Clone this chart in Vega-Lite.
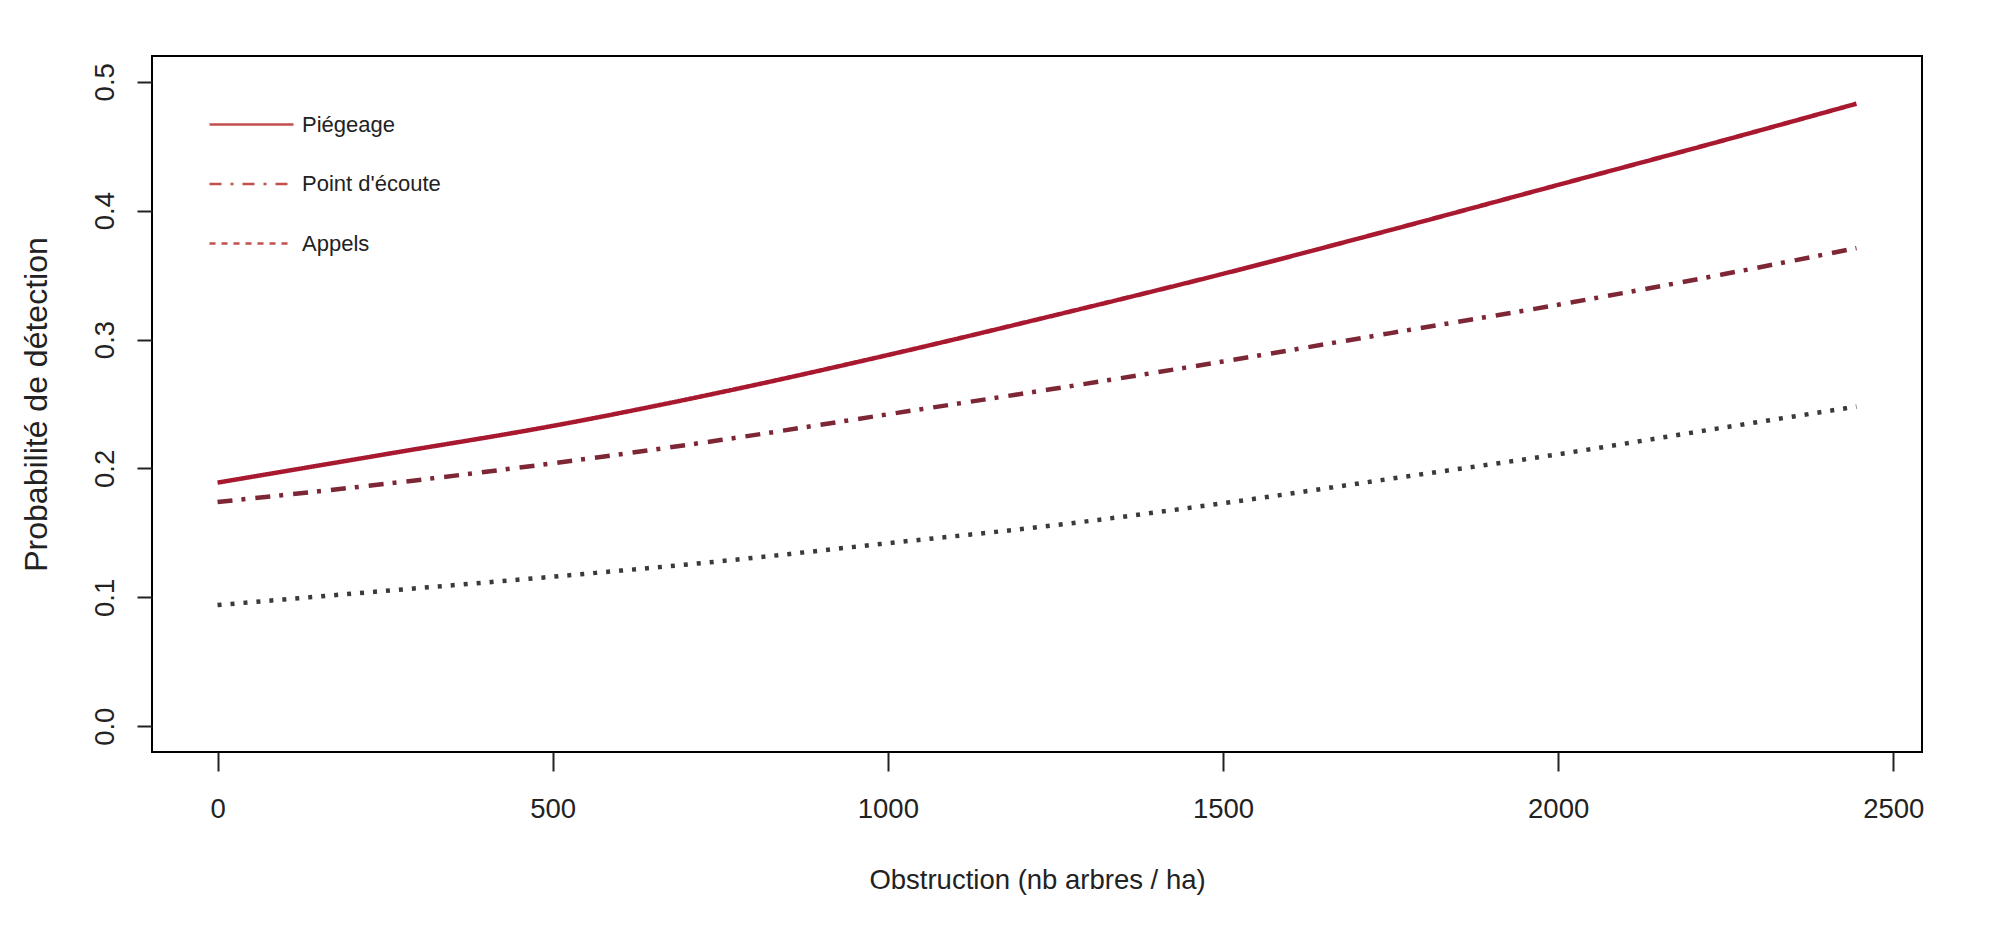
{
  "$schema": "https://vega.github.io/schema/vega-lite/v6.json",
  "width": 1770,
  "height": 696,
  "autosize": {"type": "none"},
  "padding": {"left": 152, "top": 56, "right": 79, "bottom": 191},
  "background": "white",
  "config": {
    "view": {"stroke": "black", "strokeWidth": 2},
    "font": "Liberation Sans, Arial",
    "axis": {"labelFont": "Liberation Sans, Arial", "titleFont": "Liberation Sans, Arial", "labelColor": "#222", "titleColor": "#222", "titleFontWeight": "normal", "tickColor": "#222", "tickWidth": 2, "grid": false, "domain": false},
    "legend": {"labelFont": "Liberation Sans, Arial"}
  },
  "data": {
    "values": [
      {"x": 0, "p": 0.189, "m": "Piégeage"},
      {"x": 250, "p": 0.211, "m": "Piégeage"},
      {"x": 500, "p": 0.233, "m": "Piégeage"},
      {"x": 750, "p": 0.259, "m": "Piégeage"},
      {"x": 1000, "p": 0.288, "m": "Piégeage"},
      {"x": 1250, "p": 0.319, "m": "Piégeage"},
      {"x": 1500, "p": 0.351, "m": "Piégeage"},
      {"x": 1750, "p": 0.385, "m": "Piégeage"},
      {"x": 2000, "p": 0.420, "m": "Piégeage"},
      {"x": 2250, "p": 0.455, "m": "Piégeage"},
      {"x": 2445, "p": 0.483, "m": "Piégeage"},
      {"x": 0, "p": 0.174, "m": "Point d'écoute"},
      {"x": 250, "p": 0.188, "m": "Point d'écoute"},
      {"x": 500, "p": 0.204, "m": "Point d'écoute"},
      {"x": 750, "p": 0.222, "m": "Point d'écoute"},
      {"x": 1000, "p": 0.242, "m": "Point d'écoute"},
      {"x": 1250, "p": 0.262, "m": "Point d'écoute"},
      {"x": 1500, "p": 0.283, "m": "Point d'écoute"},
      {"x": 1750, "p": 0.305, "m": "Point d'écoute"},
      {"x": 2000, "p": 0.327, "m": "Point d'écoute"},
      {"x": 2250, "p": 0.351, "m": "Point d'écoute"},
      {"x": 2445, "p": 0.371, "m": "Point d'écoute"},
      {"x": 0, "p": 0.094, "m": "Appels"},
      {"x": 250, "p": 0.105, "m": "Appels"},
      {"x": 500, "p": 0.116, "m": "Appels"},
      {"x": 750, "p": 0.128, "m": "Appels"},
      {"x": 1000, "p": 0.142, "m": "Appels"},
      {"x": 1250, "p": 0.156, "m": "Appels"},
      {"x": 1500, "p": 0.173, "m": "Appels"},
      {"x": 1750, "p": 0.192, "m": "Appels"},
      {"x": 2000, "p": 0.211, "m": "Appels"},
      {"x": 2250, "p": 0.232, "m": "Appels"},
      {"x": 2445, "p": 0.248, "m": "Appels"}
    ]
  },
  "encoding": {
    "x": {
      "field": "x", "type": "quantitative",
      "scale": {"domain": [-97.8, 2542.8], "nice": false, "zero": false},
      "axis": {"values": [0, 500, 1000, 1500, 2000, 2500], "format": "d", "title": "Obstruction (nb arbres / ha)", "labelFontSize": 27.5, "titleFontSize": 27.5, "tickSize": 19, "labelPadding": 24, "titlePadding": 44, "labelFlush": false}
    },
    "y": {
      "field": "p", "type": "quantitative",
      "scale": {"domain": [-0.02, 0.52], "nice": false, "zero": false},
      "axis": {"values": [0, 0.1, 0.2, 0.3, 0.4, 0.5], "format": ".1f", "title": "Probabilité de détection", "labelFontSize": 27.5, "titleFontSize": 32, "tickSize": 15, "labelAngle": -90, "labelAlign": "center", "labelBaseline": "bottom", "labelPadding": 18, "titlePadding": 38, "labelFlush": false}
    }
  },
  "layer": [
    {
      "mark": {"type": "line", "interpolate": "monotone", "strokeCap": "butt"},
      "encoding": {
        "color": {
          "field": "m", "type": "nominal",
          "scale": {"domain": ["Piégeage", "Point d'écoute", "Appels"], "range": ["#a8182f", "#7d2636", "#3a3a3a"]},
          "legend": null
        },
        "strokeWidth": {
          "field": "m", "type": "nominal",
          "scale": {"domain": ["Piégeage", "Point d'écoute", "Appels"], "range": [4.5, 4.5, 3.5]},
          "legend": null
        },
        "strokeDash": {
          "field": "m", "type": "nominal",
          "scale": {"domain": ["Piégeage", "Point d'écoute", "Appels"], "range": [[1, 0], [15, 9, 4, 10], [4, 9]]},
          "legend": null
        }
      }
    },
    {
      "transform": [{"filter": "datum.x < -1"}],
      "mark": {"type": "line", "color": "#c0504d", "strokeCap": "butt"},
      "encoding": {
        "strokeDash": {
          "field": "m", "type": "nominal",
          "scale": {"domain": ["Piégeage", "Point d'écoute", "Appels"], "range": [[1, 0], [12, 9, 3, 9], [6, 6]]},
          "legend": {
            "title": null, "orient": "none", "legendX": 56, "legendY": 25,
            "symbolType": "stroke", "symbolSize": 7056, "symbolStrokeColor": "#c0504d",
            "labelFontSize": 22, "labelColor": "#222", "labelOffset": 7, "rowPadding": 4.5
          }
        },
        "strokeWidth": {
          "field": "m", "type": "nominal",
          "scale": {"domain": ["Piégeage", "Point d'écoute", "Appels"], "range": [2.5, 2.5, 5.5]}
        }
      }
    }
  ],
  "resolve": {"scale": {"strokeDash": "independent", "strokeWidth": "independent"}, "legend": {"strokeDash": "independent", "strokeWidth": "independent"}}
}
